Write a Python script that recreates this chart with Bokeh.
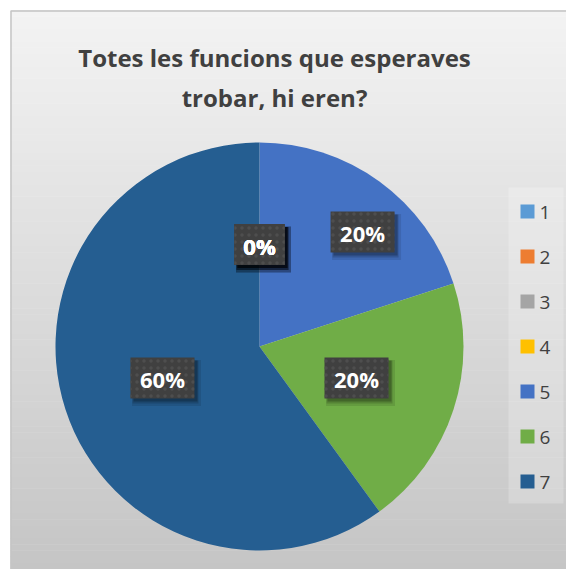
import numpy as np
from bokeh.plotting import figure
from bokeh.models import ColumnDataSource
from bokeh.core.properties import value
from bokeh.embed import file_html
from bokeh.resources import INLINE

# ---- data ----
title_lines = ["Totes les funcions que esperaves", "trobar, hi eren?"]
categories = ["1", "2", "3", "4", "5", "6", "7"]
values = [0, 0, 0, 0, 1, 1, 3]
colors = ["#5B9BD5", "#ED7D31", "#A5A5A5", "#FFC000", "#4472C4", "#70AD47", "#255E91"]

W, H = 566, 569
p = figure(width=W, height=H, x_range=(0, W), y_range=(0, H),
           output_backend="svg", toolbar_location=None, min_border=0)
p.axis.visible = False
p.grid.visible = False
p.outline_line_color = None
p.background_fill_color = "white"
p.border_fill_color = "white"

# ---- chart background gradient ----
top_y = H - 10
bot_y = 0
n = 90
edges = np.linspace(bot_y, top_y, n + 1)
g_cols = []
for i in range(n):
    t = (edges[i] + edges[i + 1]) / 2
    f = (t - bot_y) / (top_y - bot_y)
    v = int(round(197 + (243 - 197) * f))
    g_cols.append("#%02x%02x%02x" % (v, v, v))
p.quad(left=10, right=W + 5, bottom=edges[:-1], top=edges[1:] + 0.5,
       fill_color=g_cols, line_color=None)
p.quad(left=[10.5], right=[W + 5], bottom=[-10], top=[top_y - 0.5],
       fill_color=None, line_color="#c4c4c4", line_width=1.5)

# ---- title ----
p.text(x=[274, 274], y=[H - 57, H - 97], text=title_lines,
       text_font=value("Open Sans"), text_font_style="bold", text_font_size="24px",
       text_color="#404040", text_align="center", text_baseline="middle")

# ---- pie ----
cx, cy, r = 259, H - 346, 204
total = float(sum(values))
fracs = np.array(values) / total
cum = np.concatenate([[0], np.cumsum(fracs)])
nz = [i for i in range(len(values)) if values[i] > 0]
src = ColumnDataSource(dict(
    start=[np.pi / 2 - 2 * np.pi * cum[i] for i in nz],
    end=[np.pi / 2 - 2 * np.pi * cum[i + 1] for i in nz],
    color=[colors[i] for i in nz],
))
p.wedge(x=cx, y=cy, radius=r, start_angle="start", end_angle="end",
        direction="clock", fill_color="color", line_color=None, source=src)

# ---- data labels ----
label_dist = [0.5, 0.5, 0.5, 0.5, 0.755, 0.5, 0.5]
label_nudge = [0, 0, 0, 0, 6, 0, 0]
lx, ly, lt, lw = [], [], [], []
for i in range(len(values)):
    theta = np.radians(360 * (cum[i] + fracs[i] / 2) + label_nudge[i])
    d = label_dist[i] * r
    lx.append(cx + d * np.sin(theta))
    ly.append(cy + d * np.cos(theta))
    txt = "%d%%" % round(fracs[i] * 100)
    lt.append(txt)
    lw.append(22 + 14 * len(txt))
lx = np.array(lx); ly = np.array(ly); lw = np.array(lw)
lh = 41
for dx, dy, a, grow in [(4, -5, 0.10, 5), (3, -4, 0.15, 2), (3, -3, 0.22, 0)]:
    p.rect(x=lx + dx, y=ly + dy, width=lw + grow, height=lh + grow,
           fill_color="black", fill_alpha=a, line_color=None)
p.rect(x=lx, y=ly, width=lw, height=lh, fill_color="#404040", line_color=None,
       hatch_pattern="dot", hatch_color="#4e4e4e", hatch_scale=7, hatch_weight=1)
p.text(x=lx, y=ly - 1, text=lt, text_font=value("Open Sans"), text_font_style="bold",
       text_font_size="22px", text_color="white", text_align="center",
       text_baseline="middle")

# ---- legend ----
p.quad(left=[508], right=[563], bottom=[H - 503], top=[H - 187],
       fill_color="white", fill_alpha=0.22, line_color=None)
leg_y = [H - 211 - 45 * i for i in range(len(categories))]
p.rect(x=[527] * len(categories), y=leg_y, width=14, height=14,
       fill_color=colors, line_color=None)
p.text(x=[539] * len(categories), y=[v - 1 for v in leg_y], text=categories,
       text_font=value("Open Sans"), text_font_size="19px", text_color="#404040",
       text_align="left", text_baseline="middle")

open("out.html", "w").write(file_html(p, INLINE))
